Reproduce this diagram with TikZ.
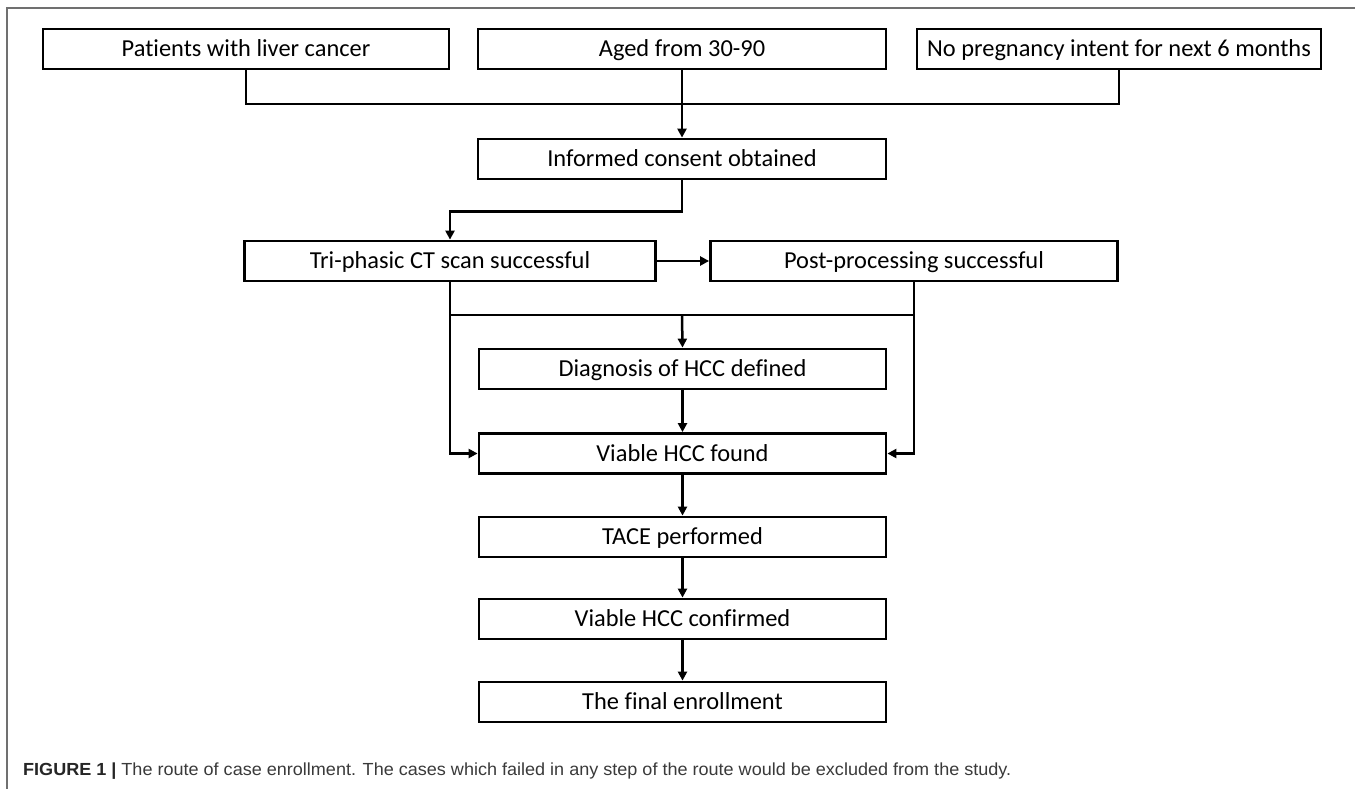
\documentclass[tikz,border=0pt]{standalone}
\usepackage{fontspec}
\setmainfont{Carlito}[Ligatures=NoCommon]
\newfontfamily\capfont{Liberation Sans}
\usetikzlibrary{arrows.meta}
\definecolor{framegray}{HTML}{707070}
\definecolor{captext}{HTML}{3A3A3A}
\begin{document}
\begin{tikzpicture}[x=1pt,y=-1pt,
  box/.style={draw=black,line width=2.8pt,minimum height=40pt,inner sep=0pt,font=\fontsize{24.4}{28}\selectfont,text=black,text height=15.7pt,text depth=0pt},
  conn/.style={line width=2.5pt,draw=black},
  arr/.style={conn,-{Triangle[length=9pt,width=9pt]}}]
\useasboundingbox (0,0) rectangle (1355,789);
\fill[white] (0,0) rectangle (1355,789);
\draw[framegray,line width=1.5pt] (7,789) -- (7,8) -- (1355,8);
% boxes
\node[box,minimum width=406pt] (b1) at (246,49) {Patients with liver cancer};
\node[box,minimum width=408pt] (b2) at (682,49) {Aged from 30-90};
\node[box,minimum width=404pt] (b3) at (1119,49) {No pregnancy intent for next 6 months};
\node[box,minimum width=408pt] (consent) at (682,159) {Informed consent obtained};
\node[box,minimum width=411pt] (tri) at (450,261) {Tri-phasic CT scan successful};
\node[box,minimum width=407pt] (post) at (914,261) {Post-processing successful};
\node[box,minimum width=407pt] (diag) at (682.5,369) {Diagnosis of HCC defined};
\node[box,minimum width=407pt] (viable) at (682.5,453.5) {Viable HCC found};
\node[box,minimum width=407pt] (tace) at (682.5,537) {TACE performed};
\node[box,minimum width=407pt] (conf) at (682.5,619) {Viable HCC confirmed};
\node[box,minimum width=407pt] (final) at (682.5,702) {The final enrollment};
% junction coordinates
\coordinate (j1) at (682,104);
\coordinate (j3) at (682,315);
% connectors
\draw[conn] (b1.south) |- (j1) -| (b3.south);
\draw[arr] (b2.south) -- (consent.north);
\draw[arr] (consent.south) -- ++(0,31) -| (tri.north);
\draw[arr] (tri.east) -- (post.west);
\draw[arr] (tri.south) |- (viable.west);
\draw[arr] (post.south) |- (viable.east);
\draw[conn] (tri.south |- j3) -- (post.south |- j3);
\draw[arr] (j3) -- (diag.north);
\draw[arr] (diag.south) -- (viable.north);
\draw[arr] (viable.south) -- (tace.north);
\draw[arr] (tace.south) -- (conf.north);
\draw[arr] (conf.south) -- (final.north);
% caption
\node[anchor=base west,inner sep=0pt,text=captext,font=\capfont\fontsize{17.5}{20}\selectfont] (cap) at (23,775)
  {\resizebox{988pt}{\height}{\textbf{\color{black!85}FIGURE 1 |} The route of case enrollment. The cases which failed in any step of the route would be excluded from the study.}};
\end{tikzpicture}
\end{document}
